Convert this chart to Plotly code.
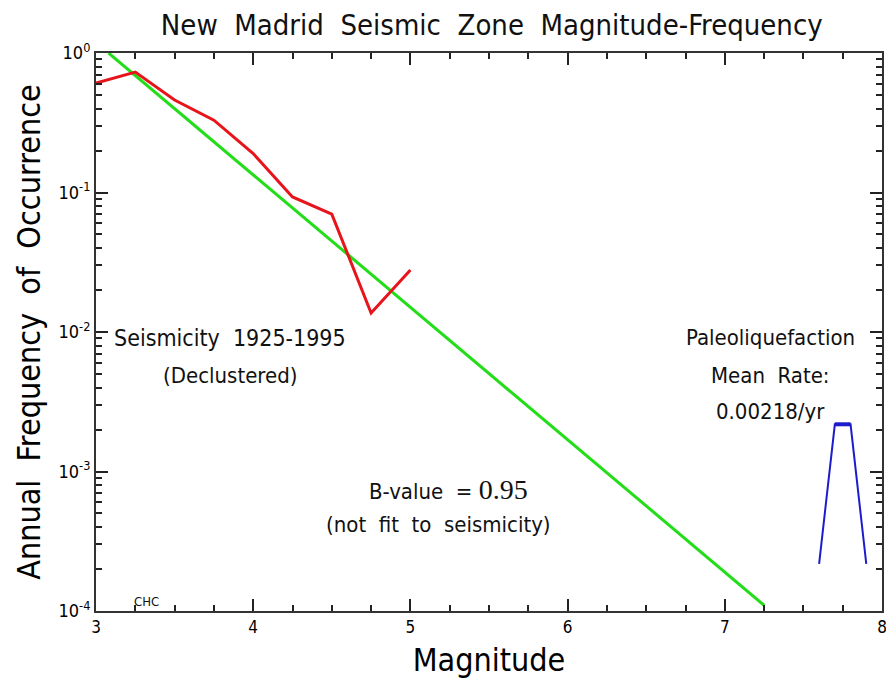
import plotly.graph_objects as go

# dados
mag_sism = [3.0, 3.25, 3.5, 3.75, 4.0, 4.25, 4.5, 4.75, 5.0]
freq_sism = [0.61, 0.73, 0.46, 0.33, 0.19, 0.093, 0.070, 0.0137, 0.0278]

mag_bvalue = [3.08, 7.25]
freq_bvalue = [1.0, 1.1e-4]

mag_paleo = [7.6, 7.7, 7.8, 7.9]
freq_paleo = [0.000218, 0.00218, 0.00218, 0.000218]

x_ticks = [3, 4, 5, 6, 7, 8]
x_ticklabels = ['3', '4', '5', '6', '7', '8']
y_ticks = [1e-4, 1e-3, 1e-2, 1e-1, 1]
y_ticklabels = ['10<sup>-4</sup>', '10<sup>-3</sup>', '10<sup>-2</sup>', '10<sup>-1</sup>', '10<sup>0</sup>']

fonte = 'DejaVu Sans Condensed, Roboto Condensed, Roboto, sans-serif'


def eixo_base():
    return dict(showgrid=False, zeroline=False, showline=True, linecolor='#333',
                linewidth=2, mirror='ticks', ticks='inside', ticklen=12, tickwidth=2,
                tickcolor='#222')


fig = go.Figure()
fig.add_trace(go.Scatter(x=mag_bvalue, y=freq_bvalue, mode='lines',
                         line=dict(color='#22dd18', width=3)))
fig.add_trace(go.Scatter(x=mag_sism, y=freq_sism, mode='lines',
                         line=dict(color='#e8141c', width=3)))
fig.add_trace(go.Scatter(x=mag_paleo, y=freq_paleo, mode='lines',
                         line=dict(color='#1c1ccc', width=2)))
# topo do trapezio mais grosso
fig.add_trace(go.Scatter(x=mag_paleo[1:3], y=freq_paleo[1:3], mode='lines',
                         line=dict(color='#1c1ccc', width=4)))

xa = dict(eixo_base(), range=[3, 8], tickmode='array', tickvals=x_ticks, ticktext=x_ticklabels,
          tickfont=dict(size=17, family=fonte))
xa['minor'] = dict(ticks='inside', ticklen=6, tickcolor='#222', tick0=3, dtick=0.25)
xa['title'] = dict(text='Magnitude', font=dict(size=32, family=fonte), standoff=12)

ya = dict(eixo_base(), type='log', range=[-4, 0], tickmode='array', tickvals=y_ticks,
          ticktext=y_ticklabels, tickfont=dict(size=18, family=fonte))
ya['minor'] = dict(ticks='inside', ticklen=6, tickcolor='#222', dtick='D1')
ya['title'] = dict(text='Annual&nbsp; Frequency&nbsp; of&nbsp; Occurrence',
                   font=dict(size=32, family=fonte), standoff=8)

# a pagina tem 8px de margem no body, por isso a figura e um pouco menor
fig.update_layout(
    width=886, height=678,
    margin=dict(t=45, b=75, l=88, r=7),
    plot_bgcolor='white',
    showlegend=False,
    font=dict(family=fonte, color='black'),
    title=dict(text='New&nbsp; Madrid&nbsp; Seismic&nbsp; Zone&nbsp; Magnitude-Frequency',
               x=0.546, xanchor='center', y=0.975, yanchor='middle',
               font=dict(size=29, family=fonte, color='#111111')),
    xaxis=xa,
    yaxis=ya,
)

txt = dict(size=22, family=fonte, color='#111111')
fig.add_annotation(x=3.85, y=-2.04, text='Seismicity&nbsp; 1925-1995', showarrow=False,
                   font=dict(txt, size=23))
fig.add_annotation(x=3.85, y=-2.31, text='(Declustered)', showarrow=False, font=txt)
fig.add_annotation(x=7.29, y=-2.04, text='Paleoliquefaction', showarrow=False, font=txt)
fig.add_annotation(x=7.29, y=-2.31, text='Mean&nbsp; Rate:', showarrow=False, font=txt)
fig.add_annotation(x=7.29, y=-2.57, text='0.00218/yr', showarrow=False, font=txt)
fig.add_annotation(x=5.24, y=-3.13,
                   text='B-value&nbsp; = <span style="font-family:Liberation Serif;font-size:28px">0.95</span>',
                   showarrow=False, font=txt)
fig.add_annotation(x=5.18, y=-3.38, text='(not&nbsp; fit&nbsp; to&nbsp; seismicity)', showarrow=False, font=txt)
fig.add_annotation(x=3.32, y=-3.935, text='CHC', showarrow=False,
                   font=dict(size=13, family=fonte, color='#111111'))

fig.write_html("out.html")
